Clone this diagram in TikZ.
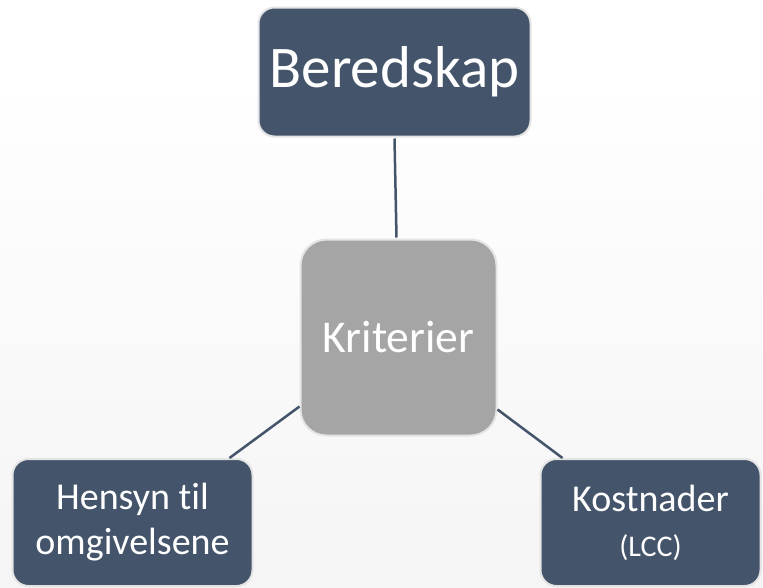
\documentclass[tikz,border=0pt]{standalone}
\usepackage{fontspec}
\setmainfont[Ligatures=NoCommon]{Carlito}
\definecolor{slate}{HTML}{44546A}
\definecolor{midgray}{HTML}{A5A5A5}
\definecolor{rim}{HTML}{E4E4E4}
\begin{document}
\begin{tikzpicture}[x=1pt,y=-1pt,
  box/.style={rectangle, rounded corners=16pt, draw=rim, line width=2pt,
    fill=slate, text=white, inner sep=0pt, align=center, anchor=center},
  hub/.style={box, fill=midgray, rounded corners=26pt},
  link/.style={draw=slate, line width=2.5pt}]
  % page and soft background fade
  \useasboundingbox (0,0) rectangle (763,587);
  \fill[white] (0,0) rectangle (763,587);
  \shade[top color=white, bottom color=black!4] (0,70) rectangle (763,587);

  % boxes
  \node[box, minimum width=272pt, minimum height=129pt,
        font=\fontsize{59}{70}\selectfont] (ready) at (394.5,72) {Beredskap};
  \node[hub, minimum width=196pt, minimum height=196pt,
        font=\fontsize{45.5}{54}\selectfont] (crit) at (398.5,337.5) {Kriterier};
  \node[box, minimum width=240pt, minimum height=127pt,
        font=\fontsize{38}{45}\selectfont] (env) at (132.5,522.5)
        {Hensyn til\\omgivelsene};
  \node[box, minimum width=220pt, minimum height=127pt,
        font=\fontsize{38}{45}\selectfont] (cost) at (650.5,522.5)
        {Kostnader\\{\fontsize{30}{45}\selectfont (LCC)}};

  % connectors
  \draw[link] ([yshift=-1pt]ready.south) -- ([xshift=2pt,yshift=1pt]ready.south |- crit.north);
  \draw[link] ([yshift=30pt]crit.south west) -- ([xshift=-24pt]env.north east);
  \draw[link] ([yshift=27pt]crit.south east) -- ([xshift=23pt]cost.north west);
\end{tikzpicture}
\end{document}
